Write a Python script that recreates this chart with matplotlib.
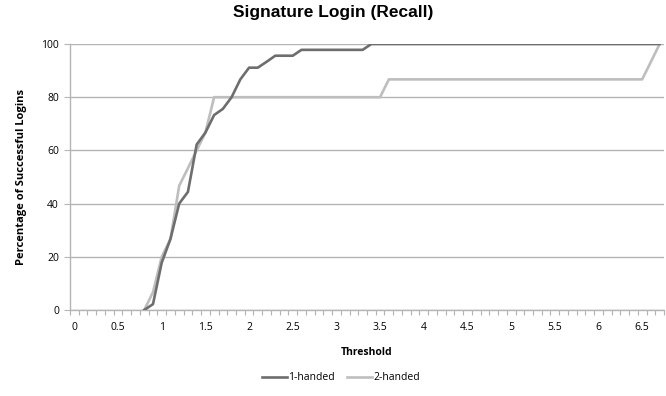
import matplotlib
matplotlib.use("Agg")
from matplotlib import pyplot as plt
import numpy as np

# threshold categories (Excel category axis, one per 0.1)
thresholds = [0.0, 0.1, 0.2, 0.3, 0.4, 0.5, 0.6, 0.7, 0.8, 0.9,
              1.0, 1.1, 1.2, 1.3, 1.4, 1.5, 1.6, 1.7, 1.8, 1.9,
              2.0, 2.1, 2.2, 2.3, 2.4, 2.5, 2.6, 2.7, 2.8, 2.9,
              3.0, 3.1, 3.2, 3.3, 3.4, 3.5, 3.6, 3.7, 3.8, 3.9,
              4.0, 4.1, 4.2, 4.3, 4.4, 4.5, 4.6, 4.7, 4.8, 4.9,
              5.0, 5.1, 5.2, 5.3, 5.4, 5.5, 5.6, 5.7, 5.8, 5.9,
              6.0, 6.1, 6.2, 6.3, 6.4, 6.5, 6.6, 6.7]

# no line is visible below 0.8, so those points are left empty
one_handed = [None, None, None, None, None, None, None, None, 0, 2.2,
              17.8, 26.7, 40, 44.4, 62.2, 66.7, 73.3, 75.6, 80, 86.7,
              91.1, 91.1, 93.3, 95.6, 95.6, 95.6, 97.8, 97.8, 97.8, 97.8,
              97.8, 97.8, 97.8, 97.8, 100, 100, 100, 100, 100, 100,
              100, 100, 100, 100, 100, 100, 100, 100, 100, 100,
              100, 100, 100, 100, 100, 100, 100, 100, 100, 100,
              100, 100, 100, 100, 100, 100, 100, 100]

two_handed = [None, None, None, None, None, None, None, None, 0, 6.7,
              20, 26.7, 46.7, 53.3, 60, 66.7, 80, 80, 80, 80,
              80, 80, 80, 80, 80, 80, 80, 80, 80, 80,
              80, 80, 80, 80, 80, 80, 86.7, 86.7, 86.7, 86.7,
              86.7, 86.7, 86.7, 86.7, 86.7, 86.7, 86.7, 86.7, 86.7, 86.7,
              86.7, 86.7, 86.7, 86.7, 86.7, 86.7, 86.7, 86.7, 86.7, 86.7,
              86.7, 86.7, 86.7, 86.7, 86.7, 86.7, 93.3, 100]

yticks = [0, 20, 40, 60, 80, 100]

grey = '#b4b4b4'
label_font = 'Open Sans'

fig = plt.figure(figsize=(6.66, 3.96), dpi=100)
ax = fig.add_axes([70 / 666, 86 / 396, 594 / 666, 266 / 396])

idx = np.arange(len(thresholds))
y1 = np.array(one_handed, dtype=float)
y2 = np.array(two_handed, dtype=float)
ax.plot(idx, y1, color='#6e6e6e', lw=1.9, label='1-handed', zorder=3)
ax.plot(idx, y2, color='#bebebe', lw=1.9, label='2-handed', zorder=2)

ax.set_xlim(-0.5, len(thresholds) - 0.5)
ax.set_ylim(0, 100)

# labels every 0.5, tick marks between categories
major = [i for i, t in enumerate(thresholds) if i % 5 == 0]
ax.set_xticks(major)
ax.set_xticklabels(['%g' % thresholds[i] for i in major], fontsize=7.5, family=label_font)
ax.set_xticks(np.arange(len(thresholds) + 1) - 0.5, minor=True)
ax.tick_params(axis='x', which='major', length=0, pad=9)
ax.tick_params(axis='x', which='minor', length=3.5, width=0.8, color=grey, direction='out')

ax.set_yticks(yticks)
ax.set_yticklabels([str(v) for v in yticks], fontsize=7.5, family=label_font)
ax.tick_params(axis='y', length=4, width=0.8, color=grey, direction='out', pad=4)

ax.grid(axis='y', color=grey, lw=1.0)
ax.set_axisbelow(True)
for side in ['top', 'right']:
    ax.spines[side].set_visible(False)
for side in ['left', 'bottom']:
    ax.spines[side].set_color(grey)
    ax.spines[side].set_linewidth(1.0)

ax.set_xlabel('Threshold', fontsize=7.5, fontweight='bold', family=label_font, labelpad=10)
ax.set_ylabel('Percentage of Successful Logins', fontsize=8, fontweight='bold',
              family=label_font, labelpad=10)
fig.text(0.5, 1 - 13 / 396, 'Signature Login (Recall)', ha='center', va='center',
         fontsize=12.5, fontweight='bold', family='Liberation Sans')

fig.legend(loc='center', bbox_to_anchor=(341 / 666, 1 - 378 / 396), ncol=2, frameon=False,
           prop={'family': label_font, 'size': 7.5}, handlelength=2.4, columnspacing=1.2,
           handletextpad=0.15)

fig.savefig('out.png', dpi=100)
